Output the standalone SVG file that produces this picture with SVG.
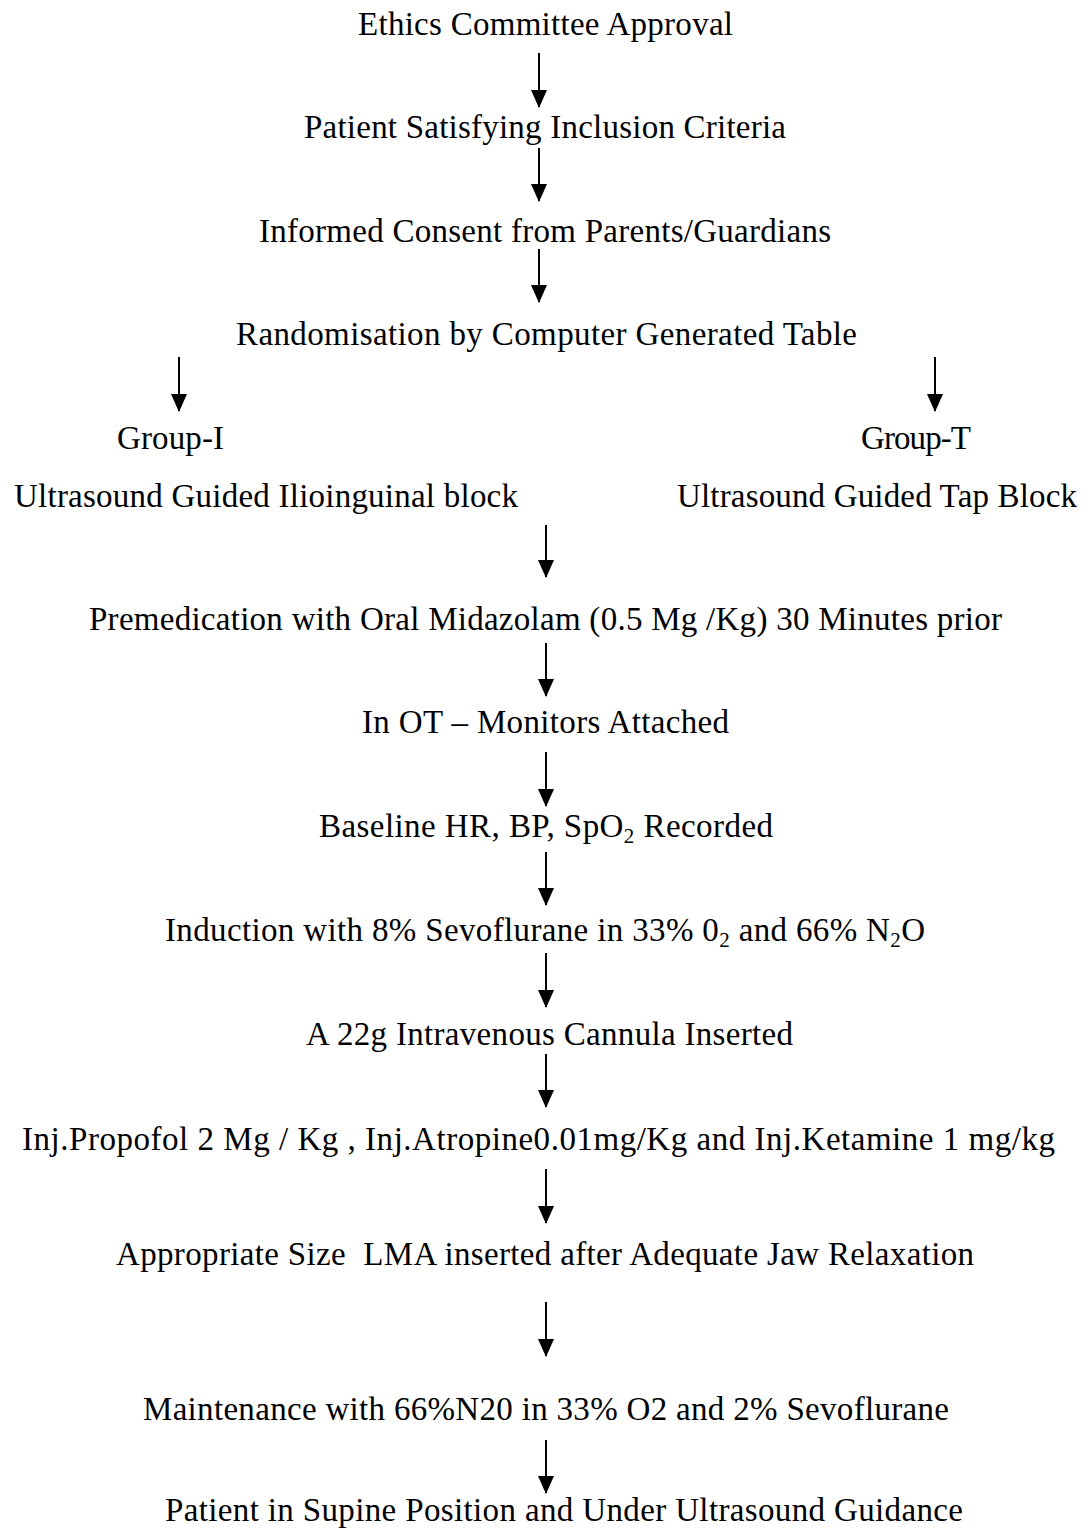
<svg xmlns="http://www.w3.org/2000/svg" width="1090" height="1531" viewBox="0 0 1090 1531">
<style>
text{font-family:"Liberation Serif","Times New Roman",serif;font-size:33px;fill:#000;text-anchor:middle}
.c{stroke:#000;stroke-width:2;fill:none}
</style>
<defs>
<marker id="av" markerUnits="userSpaceOnUse" markerWidth="18" markerHeight="16" refX="17" refY="8" orient="auto" viewBox="0 0 18 16">
<path d="M0,0 L18,8 L0,16 Z" fill="#000"/>
</marker>
</defs>
<rect width="1090" height="1531" fill="#fff"/>
<g id="connectors">
<line class="c" x1="539" y1="53" x2="539" y2="107" marker-end="url(#av)"/>
<line class="c" x1="539" y1="148" x2="539" y2="201" marker-end="url(#av)"/>
<line class="c" x1="539" y1="249" x2="539" y2="302" marker-end="url(#av)"/>
<line class="c" x1="179" y1="357" x2="179" y2="411" marker-end="url(#av)"/>
<line class="c" x1="935" y1="357" x2="935" y2="411" marker-end="url(#av)"/>
<line class="c" x1="546" y1="525" x2="546" y2="577" marker-end="url(#av)"/>
<line class="c" x1="546" y1="643" x2="546" y2="696" marker-end="url(#av)"/>
<line class="c" x1="546" y1="752" x2="546" y2="806" marker-end="url(#av)"/>
<line class="c" x1="546" y1="852" x2="546" y2="905" marker-end="url(#av)"/>
<line class="c" x1="546" y1="953" x2="546" y2="1007" marker-end="url(#av)"/>
<line class="c" x1="546" y1="1054" x2="546" y2="1107" marker-end="url(#av)"/>
<line class="c" x1="546" y1="1169" x2="546" y2="1223" marker-end="url(#av)"/>
<line class="c" x1="546" y1="1302" x2="546" y2="1356" marker-end="url(#av)"/>
<line class="c" x1="546" y1="1440" x2="546" y2="1493" marker-end="url(#av)"/>
</g>
<g id="n1"><text x="545.5" y="35" textLength="375">Ethics Committee Approval</text></g>
<g id="n2"><text x="545" y="138" textLength="482">Patient Satisfying Inclusion Criteria</text></g>
<g id="n3"><text x="545" y="242" textLength="572">Informed Consent from Parents/Guardians</text></g>
<g id="n4"><text x="546.5" y="345" textLength="621">Randomisation by Computer Generated Table</text></g>
<g id="n5"><text x="170.5" y="449" textLength="107">Group-I</text></g>
<g id="n6"><text x="916" y="449" textLength="110">Group-T</text></g>
<g id="n7"><text x="266" y="507" textLength="504">Ultrasound Guided Ilioinguinal block</text></g>
<g id="n8"><text x="877" y="507" textLength="400">Ultrasound Guided Tap Block</text></g>
<g id="n9"><text x="545.5" y="630" textLength="913">Premedication with Oral Midazolam (0.5 Mg /Kg) 30 Minutes prior</text></g>
<g id="n10"><text x="545.5" y="733" textLength="367">In OT – Monitors Attached</text></g>
<g id="n11"><text x="546" y="837" textLength="454">Baseline HR, BP, SpO<tspan font-size="21" dy="6">2</tspan><tspan dy="-6"> Recorded</tspan></text></g>
<g id="n12"><text x="545" y="941" textLength="760">Induction with 8% Sevoflurane in 33% 0<tspan font-size="21" dy="6">2</tspan><tspan dy="-6"> and 66% N</tspan><tspan font-size="21" dy="6">2</tspan><tspan dy="-6">O</tspan></text></g>
<g id="n13"><text x="549.5" y="1045" textLength="487">A 22g Intravenous Cannula Inserted</text></g>
<g id="n14"><text x="538.5" y="1150" textLength="1033">Inj.Propofol 2 Mg / Kg , Inj.Atropine0.01mg/Kg and Inj.Ketamine 1 mg/kg</text></g>
<g id="n15"><text x="545" y="1265" textLength="858" xml:space="preserve">Appropriate Size  LMA inserted after Adequate Jaw Relaxation</text></g>
<g id="n16"><text x="546" y="1420" textLength="806">Maintenance with 66%N20 in 33% O2 and 2% Sevoflurane</text></g>
<g id="n17"><text x="564" y="1521" textLength="798">Patient in Supine Position and Under Ultrasound Guidance</text></g>
</svg>
